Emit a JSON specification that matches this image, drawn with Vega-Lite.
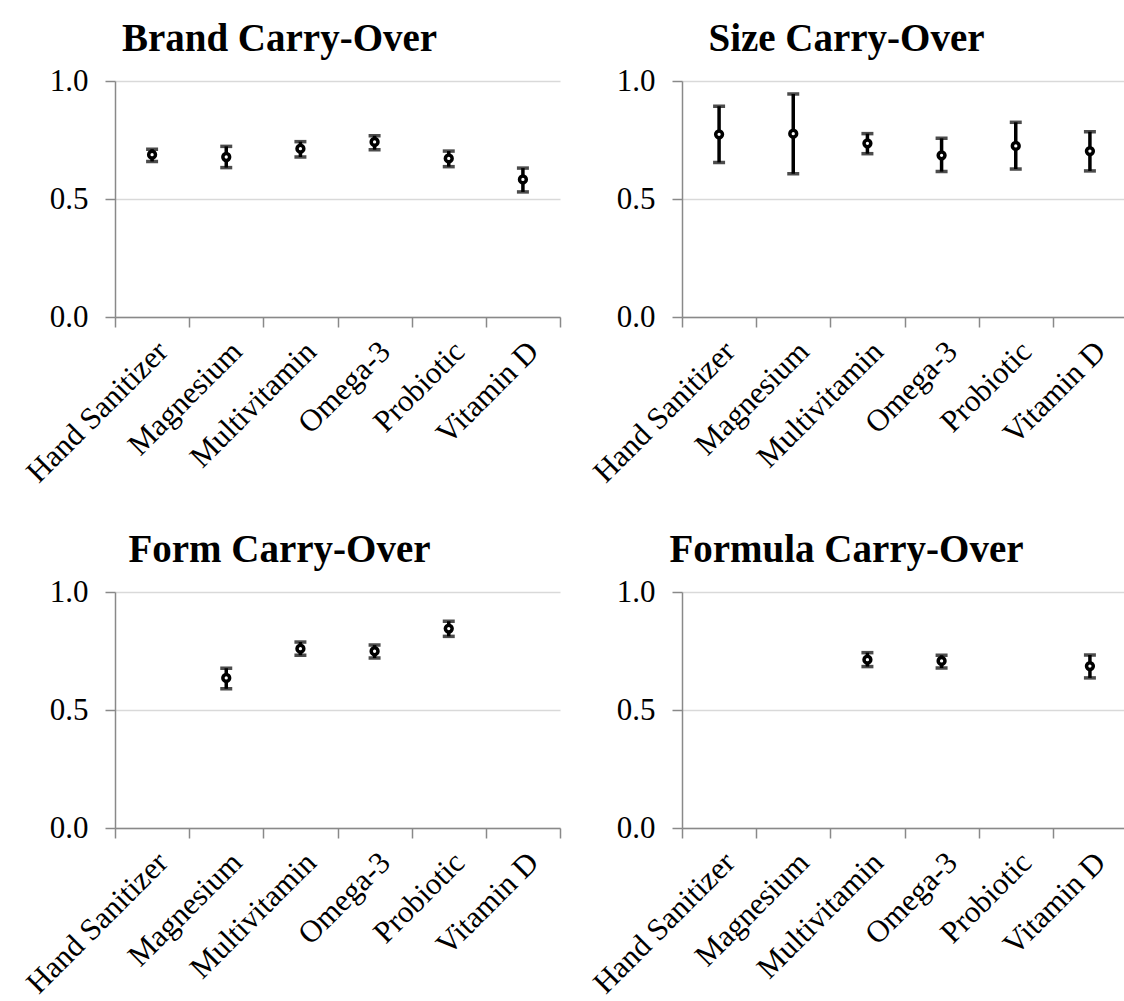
{
  "$schema": "https://vega.github.io/schema/vega-lite/v6.json",
  "background": "white",
  "autosize": "none",
  "padding": {"left": 115, "top": 81, "right": 1009, "bottom": 920},
  "bounds": "flush",
  "columns": 2,
  "spacing": {"row": 275, "column": 122},
  "datasets": {
    "carry": [
      {"panel": "Brand", "product": "Hand Sanitizer", "mean": 0.688, "lo": 0.659, "hi": 0.711},
      {"panel": "Brand", "product": "Magnesium", "mean": 0.678, "lo": 0.633, "hi": 0.723},
      {"panel": "Brand", "product": "Multivitamin", "mean": 0.713, "lo": 0.678, "hi": 0.743},
      {"panel": "Brand", "product": "Omega-3", "mean": 0.742, "lo": 0.709, "hi": 0.768},
      {"panel": "Brand", "product": "Probiotic", "mean": 0.672, "lo": 0.637, "hi": 0.703},
      {"panel": "Brand", "product": "Vitamin D", "mean": 0.583, "lo": 0.530, "hi": 0.631},
      {"panel": "Size", "product": "Hand Sanitizer", "mean": 0.774, "lo": 0.655, "hi": 0.893},
      {"panel": "Size", "product": "Magnesium", "mean": 0.777, "lo": 0.607, "hi": 0.945},
      {"panel": "Size", "product": "Multivitamin", "mean": 0.736, "lo": 0.692, "hi": 0.777},
      {"panel": "Size", "product": "Omega-3", "mean": 0.685, "lo": 0.616, "hi": 0.757},
      {"panel": "Size", "product": "Probiotic", "mean": 0.725, "lo": 0.627, "hi": 0.825},
      {"panel": "Size", "product": "Vitamin D", "mean": 0.703, "lo": 0.619, "hi": 0.785},
      {"panel": "Form", "product": "Magnesium", "mean": 0.636, "lo": 0.590, "hi": 0.677},
      {"panel": "Form", "product": "Multivitamin", "mean": 0.760, "lo": 0.732, "hi": 0.788},
      {"panel": "Form", "product": "Omega-3", "mean": 0.749, "lo": 0.720, "hi": 0.775},
      {"panel": "Form", "product": "Probiotic", "mean": 0.845, "lo": 0.812, "hi": 0.876},
      {"panel": "Formula", "product": "Multivitamin", "mean": 0.713, "lo": 0.684, "hi": 0.743},
      {"panel": "Formula", "product": "Omega-3", "mean": 0.708, "lo": 0.678, "hi": 0.732},
      {"panel": "Formula", "product": "Vitamin D", "mean": 0.686, "lo": 0.636, "hi": 0.733}
    ]
  },
  "concat": [
    {
      "title": "Brand Carry-Over",
      "width": 445, "height": 236,
      "data": {"name": "carry"},
      "transform": [{"filter": "datum.panel === 'Brand'"}],
      "encoding": {
        "x": {"field": "product", "type": "nominal", "title": null,
              "scale": {"domain": ["Hand Sanitizer", "Magnesium", "Multivitamin", "Omega-3", "Probiotic", "Vitamin D"], "paddingInner": 0, "paddingOuter": 0}}
      },
      "layer": [
        {"mark": {"type": "rule", "color": "black", "strokeWidth": 3.5},
         "encoding": {"y": {"field": "lo", "type": "quantitative", "title": null, "scale": {"domain": [0, 1], "nice": false}, "axis": {"values": [0, 0.5, 1], "format": ".1f"}}, "y2": {"field": "hi"}}},
        {"mark": {"type": "tick", "color": "black", "thickness": 3.5, "size": 12, "orient": "horizontal"},
         "encoding": {"y": {"field": "lo", "type": "quantitative"}}},
        {"mark": {"type": "tick", "color": "black", "thickness": 3.5, "size": 12, "orient": "horizontal"},
         "encoding": {"y": {"field": "hi", "type": "quantitative"}}},
        {"mark": {"type": "point", "shape": "circle", "filled": false, "fill": "white", "fillOpacity": 1, "stroke": "black", "strokeWidth": 3.5, "size": 46, "opacity": 1},
         "encoding": {"y": {"field": "mean", "type": "quantitative"}}}
      ]
    },
    {
      "title": "Size Carry-Over",
      "width": 445, "height": 236,
      "data": {"name": "carry"},
      "transform": [{"filter": "datum.panel === 'Size'"}],
      "encoding": {
        "x": {"field": "product", "type": "nominal", "title": null,
              "scale": {"domain": ["Hand Sanitizer", "Magnesium", "Multivitamin", "Omega-3", "Probiotic", "Vitamin D"], "paddingInner": 0, "paddingOuter": 0}}
      },
      "layer": [
        {"mark": {"type": "rule", "color": "black", "strokeWidth": 3.5},
         "encoding": {"y": {"field": "lo", "type": "quantitative", "title": null, "scale": {"domain": [0, 1], "nice": false}, "axis": {"values": [0, 0.5, 1], "format": ".1f"}}, "y2": {"field": "hi"}}},
        {"mark": {"type": "tick", "color": "black", "thickness": 3.5, "size": 12, "orient": "horizontal"},
         "encoding": {"y": {"field": "lo", "type": "quantitative"}}},
        {"mark": {"type": "tick", "color": "black", "thickness": 3.5, "size": 12, "orient": "horizontal"},
         "encoding": {"y": {"field": "hi", "type": "quantitative"}}},
        {"mark": {"type": "point", "shape": "circle", "filled": false, "fill": "white", "fillOpacity": 1, "stroke": "black", "strokeWidth": 3.5, "size": 46, "opacity": 1},
         "encoding": {"y": {"field": "mean", "type": "quantitative"}}}
      ]
    },
    {
      "title": "Form Carry-Over",
      "width": 445, "height": 236,
      "data": {"name": "carry"},
      "transform": [{"filter": "datum.panel === 'Form'"}],
      "encoding": {
        "x": {"field": "product", "type": "nominal", "title": null,
              "scale": {"domain": ["Hand Sanitizer", "Magnesium", "Multivitamin", "Omega-3", "Probiotic", "Vitamin D"], "paddingInner": 0, "paddingOuter": 0}}
      },
      "layer": [
        {"mark": {"type": "rule", "color": "black", "strokeWidth": 3.5},
         "encoding": {"y": {"field": "lo", "type": "quantitative", "title": null, "scale": {"domain": [0, 1], "nice": false}, "axis": {"values": [0, 0.5, 1], "format": ".1f"}}, "y2": {"field": "hi"}}},
        {"mark": {"type": "tick", "color": "black", "thickness": 3.5, "size": 12, "orient": "horizontal"},
         "encoding": {"y": {"field": "lo", "type": "quantitative"}}},
        {"mark": {"type": "tick", "color": "black", "thickness": 3.5, "size": 12, "orient": "horizontal"},
         "encoding": {"y": {"field": "hi", "type": "quantitative"}}},
        {"mark": {"type": "point", "shape": "circle", "filled": false, "fill": "white", "fillOpacity": 1, "stroke": "black", "strokeWidth": 3.5, "size": 46, "opacity": 1},
         "encoding": {"y": {"field": "mean", "type": "quantitative"}}}
      ]
    },
    {
      "title": "Formula Carry-Over",
      "width": 445, "height": 236,
      "data": {"name": "carry"},
      "transform": [{"filter": "datum.panel === 'Formula'"}],
      "encoding": {
        "x": {"field": "product", "type": "nominal", "title": null,
              "scale": {"domain": ["Hand Sanitizer", "Magnesium", "Multivitamin", "Omega-3", "Probiotic", "Vitamin D"], "paddingInner": 0, "paddingOuter": 0}}
      },
      "layer": [
        {"mark": {"type": "rule", "color": "black", "strokeWidth": 3.5},
         "encoding": {"y": {"field": "lo", "type": "quantitative", "title": null, "scale": {"domain": [0, 1], "nice": false}, "axis": {"values": [0, 0.5, 1], "format": ".1f"}}, "y2": {"field": "hi"}}},
        {"mark": {"type": "tick", "color": "black", "thickness": 3.5, "size": 12, "orient": "horizontal"},
         "encoding": {"y": {"field": "lo", "type": "quantitative"}}},
        {"mark": {"type": "tick", "color": "black", "thickness": 3.5, "size": 12, "orient": "horizontal"},
         "encoding": {"y": {"field": "hi", "type": "quantitative"}}},
        {"mark": {"type": "point", "shape": "circle", "filled": false, "fill": "white", "fillOpacity": 1, "stroke": "black", "strokeWidth": 3.5, "size": 46, "opacity": 1},
         "encoding": {"y": {"field": "mean", "type": "quantitative"}}}
      ]
    }
  ],
  "config": {
    "view": {"stroke": null},
    "font": "Liberation Serif",
    "title": {"font": "Liberation Serif", "fontSize": 39, "fontWeight": "bold", "color": "black", "dx": -58, "offset": 6},
    "axis": {
      "domainColor": "#898989", "tickColor": "#898989", "domainWidth": 1.5, "tickWidth": 1.5, "tickSize": 10,
      "labelFont": "Liberation Serif", "labelFontSize": 31, "labelColor": "black",
      "gridColor": "#d9d9d9", "gridWidth": 1.5
    },
    "axisX": {"labelAngle": -45, "labelPadding": 9, "labelLimit": 0, "grid": false, "tickBand": "extent"},
    "axisY": {"labelPadding": 17, "grid": true}
  }
}
